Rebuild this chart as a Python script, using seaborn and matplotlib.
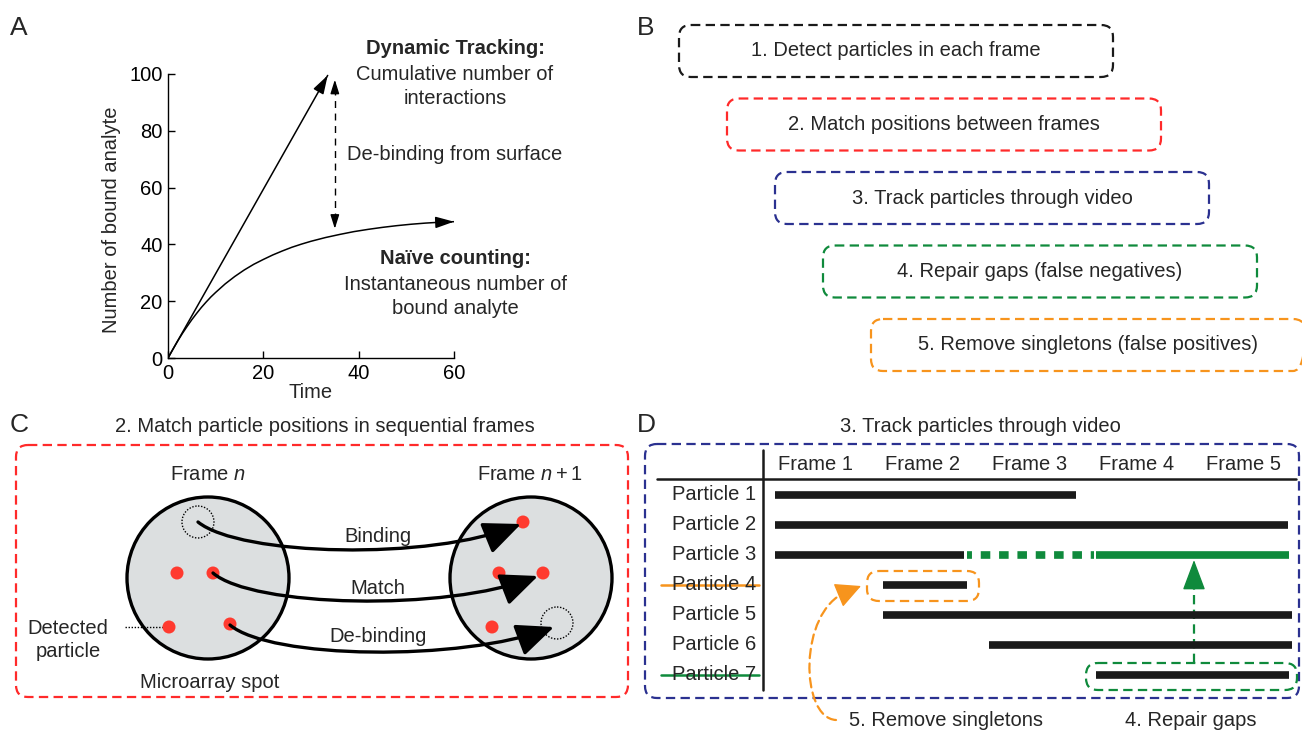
import numpy as np
import pandas as pd
import matplotlib
matplotlib.use("Agg")
import matplotlib.pyplot as plt
import seaborn as sns
from matplotlib.patches import FancyBboxPatch, Circle, FancyArrowPatch
from matplotlib.path import Path

# ---------------- data ----------------
# panel A
t_naive = [0, 1, 2, 3, 4, 5, 6, 7, 8, 9, 10, 12, 14, 16, 18, 20, 22, 24, 26, 28,
           30, 33, 36, 39, 42, 45, 48, 51, 54, 57, 60]
n_naive = [0, 3.0, 5.9, 8.6, 11.1, 13.5, 15.7, 17.8, 19.7, 21.5, 23.1, 26.1, 28.7,
           31.0, 33.0, 34.7, 36.3, 37.7, 39.0, 40.1, 41.1, 42.4, 43.5, 44.5, 45.3,
           46.0, 46.6, 47.1, 47.5, 47.8, 48.0]
t_dynamic = [0, 33.5]
n_dynamic = [0, 99.5]
debind_t = 35
debind_range = [45.5, 98.0]

# panel B: pipeline steps
steps = ["1. Detect particles in each frame",
         "2. Match positions between frames",
         "3. Track particles through video",
         "4. Repair gaps (false negatives)",
         "5. Remove singletons (false positives)"]
step_colors = ["#1a1a1a", "#ff2a2a", "#2b3190", "#0f8a3c", "#f7941d"]

# panel D: tracks in frame units
frames = ["Frame 1", "Frame 2", "Frame 3", "Frame 4", "Frame 5"]
particles = ["Particle %d" % i for i in range(1, 8)]
track_start = [0.62, 0.62, 0.62, 1.63, 1.63, 2.62, 3.62]
track_end = [3.44, 5.42, 2.39, 2.41, 5.46, 5.46, 5.43]
gap_start, gap_end = 2.41, 3.60        # repaired gap of particle 3
joined_start, joined_end = 3.62, 5.43  # particle 7 joined to particle 3

RED = "#ff2a2a"
NAVY = "#2b3190"
GREEN = "#0f8a3c"
ORANGE = "#f7941d"
DOT = "#ff3a2f"
INK = "#1a1a1a"

sns.set_theme(style="ticks")
plt.rcParams["font.family"] = ["Liberation Sans", "DejaVu Sans"]
plt.rcParams["mathtext.fontset"] = "custom"
plt.rcParams["mathtext.it"] = "Liberation Sans:italic"
plt.rcParams["mathtext.rm"] = "Liberation Sans"
FS = 14.5

fig = plt.figure(figsize=(13.02, 7.30), dpi=100)
fig.patch.set_facecolor("white")

# overlay in pixel coordinates for the schematic parts
ov = fig.add_axes([0, 0, 1, 1])
ov.set_xlim(0, 1302)
ov.set_ylim(730, 0)
ov.axis("off")

for lab, (x, y) in zip("ABCD", [(10, 28), (637, 28), (10, 425), (637, 425)]):
    ov.text(x, y, lab, fontsize=19, ha="left", va="center")

DASH = (0, (4.2, 2.4))


def dashed_box(x0, y0, x1, y1, color, r=12, lw=1.6):
    ov.add_patch(FancyBboxPatch((x0, y0), x1 - x0, y1 - y0,
                                boxstyle="round,pad=0,rounding_size=%g" % r,
                                fill=False, ec=color, lw=lw, ls=DASH))


def bezier(pts):
    return Path(pts, [Path.MOVETO, Path.CURVE4, Path.CURVE4, Path.CURVE4])


# ---------------- panel A ----------------
axA = fig.add_axes([168 / 1302, 1 - 358 / 730, 286 / 1302, 284 / 730])
axA.patch.set_alpha(0)
sns.lineplot(x=t_naive, y=n_naive, ax=axA, color="black", lw=1.1)
sns.lineplot(x=t_dynamic, y=n_dynamic, ax=axA, color="black", lw=1.1)
head = dict(arrowstyle="-|>,head_length=0.8,head_width=0.25", color="black",
            lw=1.1, shrinkA=0, shrinkB=0, mutation_scale=14)
axA.annotate("", xy=(t_naive[-1], n_naive[-1]), xytext=(t_naive[-2], n_naive[-2]),
             arrowprops=head)
axA.annotate("", xy=(t_dynamic[1], n_dynamic[1]),
             xytext=(t_dynamic[1] - 1.7, n_dynamic[1] - 5), arrowprops=head)
axA.plot([debind_t, debind_t], [debind_range[0] + 3, debind_range[1] - 3],
         color="black", lw=1.0, ls=(0, (5, 4)))
small = dict(arrowstyle="-|>,head_length=0.7,head_width=0.22", color="black",
             lw=1.0, shrinkA=0, shrinkB=0, mutation_scale=12)
axA.annotate("", xy=(debind_t, debind_range[1]), xytext=(debind_t, debind_range[1] - 4),
             arrowprops=small)
axA.annotate("", xy=(debind_t, debind_range[0]), xytext=(debind_t, debind_range[0] + 4),
             arrowprops=small)
axA.set_xlim(0, 60)
axA.set_ylim(0, 100)
axA.set_xticks([0, 20, 40, 60])
axA.set_yticks([0, 20, 40, 60, 80, 100])
axA.tick_params(direction="in", length=5, width=1, labelsize=FS, pad=4, colors="black")
sns.despine(ax=axA)
for s in ["left", "bottom"]:
    axA.spines[s].set_color("black")
    axA.spines[s].set_linewidth(1)
axA.set_xlabel("")
axA.set_ylabel("")
axA.text(0.5, -0.12, "Time", transform=axA.transAxes, ha="center", va="center", fontsize=FS)
axA.text(-0.196, 0.486, "Number of bound analyte", transform=axA.transAxes,
         rotation=90, ha="center", va="center", fontsize=FS)

ov.text(455, 49, "Dynamic Tracking:", ha="center", va="center", fontsize=FS, fontweight="bold")
ov.text(455, 74, "Cumulative number of", ha="center", va="center", fontsize=FS)
ov.text(455, 99, "interactions", ha="center", va="center", fontsize=FS)
ov.text(455, 155, "De-binding from surface", ha="center", va="center", fontsize=FS)
ov.text(455, 259, "Naïve counting:", ha="center", va="center", fontsize=FS, fontweight="bold")
ov.text(455, 284, "Instantaneous number of", ha="center", va="center", fontsize=FS)
ov.text(455, 309, "bound analyte", ha="center", va="center", fontsize=FS)

# ---------------- panel B ----------------
for i, (txt, col) in enumerate(zip(steps, step_colors)):
    x0 = 679 + 48 * i
    y0 = 25 + 73.5 * i
    dashed_box(x0, y0, x0 + 434, y0 + 52, col)
    ov.text(x0 + 217, y0 + 26, txt, ha="center", va="center", fontsize=FS)

# ---------------- panel C ----------------
ov.text(325, 427, "2. Match particle positions in sequential frames",
        ha="center", va="center", fontsize=FS)
dashed_box(16, 445, 628, 697, RED)
for cx in (208, 531):
    ov.add_patch(Circle((cx, 578), 81, fc="#dcdfe0", ec="black", lw=2.4, zorder=2))
ov.text(208, 475, r"Frame $n$", ha="center", va="center", fontsize=FS)
ov.text(530, 475, r"Frame $n + 1$", ha="center", va="center", fontsize=FS)
for (x, y) in [(177, 573), (213, 573), (169, 627), (230, 624),
               (523, 522), (499, 573), (543, 573), (492, 627)]:
    ov.add_patch(Circle((x, y), 6.5, fc=DOT, ec="none", zorder=3))
for (x, y) in [(198, 522), (557, 623)]:
    ov.add_patch(Circle((x, y), 16, fill=False, ec="black", lw=1.0, ls=(0, (1, 1.2)), zorder=3))
ov.plot([125, 166], [627, 627], color="black", lw=1.0, ls=(0, (1, 1.2)))
ov.text(68, 640, "Detected\nparticle", ha="center", va="center", fontsize=FS, linespacing=1.25)
ov.text(210, 683, "Microarray spot", ha="center", va="center", fontsize=FS)

big = "-|>,head_length=1.15,head_width=0.5"
moves = [([(198, 522), (240, 556), (430, 561), (521, 524)], "Binding", 536),
         ([(213, 573), (252, 607), (445, 612), (538, 576)], "Match", 589),
         ([(230, 625), (270, 659), (460, 662), (554, 627)], "De-binding", 637)]
for pts, lab, ly in moves:
    ov.add_patch(FancyArrowPatch(path=bezier(pts), arrowstyle=big, mutation_scale=20,
                                 lw=2.4, color="black", zorder=4))
    ov.text(378, ly, lab, ha="center", va="center", fontsize=FS, zorder=5)

# ---------------- panel D ----------------
ov.text(980, 427, "3. Track particles through video", ha="center", va="center", fontsize=FS)
dashed_box(645, 444, 1299, 698, NAVY)


def fx(px):
    return 1 + (px - 816) / 106.75


def ry(py):
    return (py - 465) / 30


axD = fig.add_axes([640 / 1302, 0, 662 / 1302, 330 / 730])
axD.patch.set_alpha(0)
axD.set_xlim(fx(640), fx(1302))
axD.set_ylim(ry(730), ry(400))
axD.axis("off")

axD.plot([0.5, 0.5], [ry(450), ry(690)], color=INK, lw=1.8)
axD.plot([fx(657), fx(1296)], [ry(479), ry(479)], color=INK, lw=1.8)
for k, f in enumerate(frames, start=1):
    axD.text(k, 0, f, ha="center", va="center", fontsize=FS)
for r, p in enumerate(particles, start=1):
    axD.text(fx(672), r, p, ha="left", va="center", fontsize=FS)

rows = np.arange(1, len(particles) + 1)
axD.hlines(rows, track_start, track_end, color=INK, lw=5.5, capstyle="butt")
axD.hlines(3, gap_start, gap_end, color=GREEN, lw=5.5, linestyle=(0.6, (1.25, 1.15)))
axD.hlines(3, joined_start, joined_end, color=GREEN, lw=5.5)
axD.plot([fx(661), fx(759)], [4, 4], color=ORANGE, lw=1.8)
axD.plot([fx(661), fx(759)], [7, 7], color=GREEN, lw=1.8)

dashed_box(867, 571, 979, 601, ORANGE, r=12)
dashed_box(1086, 663, 1297, 690, GREEN, r=12)

# orange curved dashed arrow
ov.add_patch(FancyArrowPatch(path=bezier([(836, 720), (800, 718), (798, 612), (846, 592)]),
                             arrowstyle="-", color=ORANGE, lw=1.6, ls=DASH))
ov.add_patch(FancyArrowPatch((844, 593), (861, 586), arrowstyle="-|>,head_length=1.0,head_width=0.5",
                             mutation_scale=16, color=ORANGE, lw=1, shrinkA=0, shrinkB=0))
# green vertical dashed arrow
ov.plot([1194, 1194], [663, 578], color=GREEN, lw=1.6, ls=DASH)
ov.add_patch(FancyArrowPatch((1194, 580), (1194, 560), arrowstyle="-|>,head_length=1.2,head_width=0.45",
                             mutation_scale=16, color=GREEN, lw=1, shrinkA=0, shrinkB=0))

ov.text(946, 720, "5. Remove singletons", ha="center", va="center", fontsize=FS)
ov.text(1191, 720, "4. Repair gaps", ha="center", va="center", fontsize=FS)

fig.savefig("out.png", dpi=100)
